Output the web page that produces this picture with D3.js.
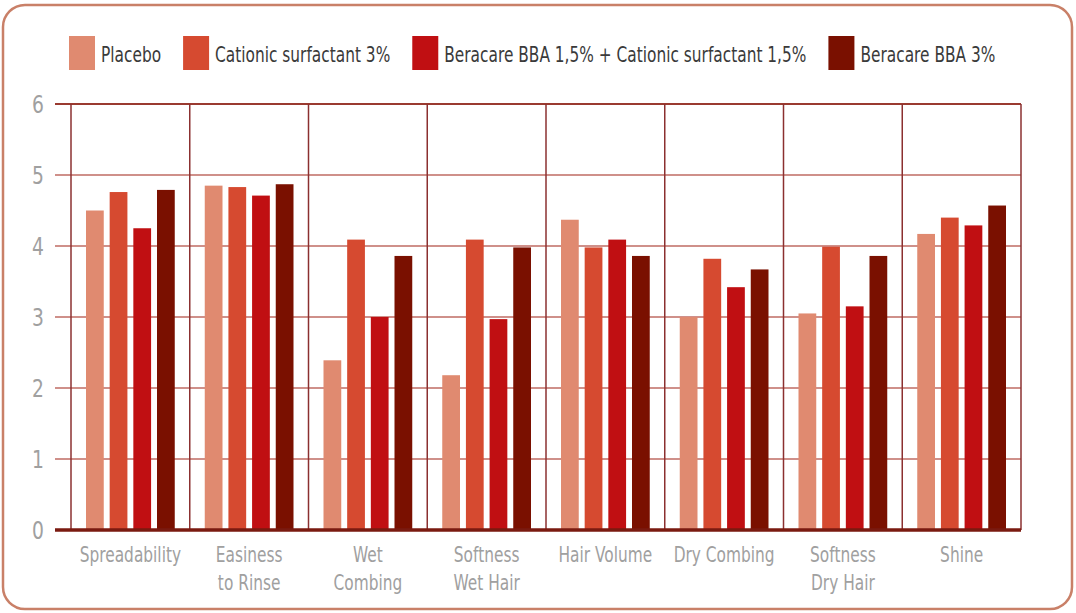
<!DOCTYPE html>
<html>
<head>
<meta charset="utf-8">
<script src="https://cdn.jsdelivr.net/npm/d3@7"></script>
<style>
  html, body { margin: 0; padding: 0; background: #fff; }
  svg text { font-family: "DejaVu Sans", sans-serif; }
</style>
</head>
<body>
<svg id="chart"></svg>
<script>
// chart data
const categories = ['Spreadability', 'Easiness\nto Rinse', 'Wet\nCombing', 'Softness\nWet Hair',
  'Hair Volume', 'Dry Combing', 'Softness\nDry Hair', 'Shine'];
const seriesNames = ['Placebo', 'Cationic surfactant 3%',
  'Beracare BBA 1,5% + Cationic surfactant 1,5%', 'Beracare BBA 3%'];
const placebo = [4.5, 4.85, 2.39, 2.18, 4.37, 3.0, 3.05, 4.17];
const cationic = [4.76, 4.83, 4.09, 4.09, 3.98, 3.82, 3.99, 4.4];
const blend = [4.25, 4.71, 3.0, 2.97, 4.09, 3.42, 3.15, 4.29];
const bba = [4.79, 4.87, 3.86, 3.98, 3.86, 3.67, 3.86, 4.57];
const yTicks = [0, 1, 2, 3, 4, 5, 6];

const colors = ['#e08a70', '#d64a30', '#c00f12', '#7a1000'];
const seriesValues = [placebo, cationic, blend, bba];

const W = 1076, H = 613;
const svg = d3.select('#chart').attr('width', W).attr('height', H);

// the original uses a condensed face, so text gets squeezed horizontally
const squeeze = 0.7;

// rounded frame
svg.append('rect')
  .attr('x', 3).attr('y', 5).attr('width', W - 7).attr('height', H - 9)
  .attr('rx', 22).attr('ry', 22)
  .attr('fill', '#fff').attr('stroke', '#c98068').attr('stroke-width', 2.5);

const gridLeft = 55, plotLeft = 71, plotRight = 1021;
const plotTop = 104, plotBottom = 530;

const x = d3.scaleBand()
  .domain(categories)
  .range([plotLeft, plotRight]);

const xs = d3.scaleBand()
  .domain(d3.range(seriesNames.length))
  .range([15, x.bandwidth() - 15])
  .paddingInner(0.25);

const y = d3.scaleLinear()
  .domain([0, 6])
  .range([plotBottom, plotTop]);

// horizontal gridlines
svg.append('g')
  .selectAll('line')
  .data(yTicks.filter(d => d > 0))
  .enter().append('line')
  .attr('x1', gridLeft).attr('x2', plotRight)
  .attr('y1', d => y(d)).attr('y2', d => y(d))
  .attr('stroke', d => d === 6 ? '#9a3a30' : '#cf908a')
  .attr('stroke-width', 2);

// vertical dividers
svg.append('g')
  .selectAll('line')
  .data(categories.concat(['end']))
  .enter().append('line')
  .attr('x1', (d, i) => plotLeft + i * x.step())
  .attr('x2', (d, i) => plotLeft + i * x.step())
  .attr('y1', plotTop).attr('y2', plotBottom)
  .attr('stroke', '#8b3030').attr('stroke-width', 1.5);

// bars
const groups = svg.append('g')
  .selectAll('g')
  .data(categories)
  .enter().append('g')
  .attr('transform', d => `translate(${x(d)},0)`);

groups.selectAll('rect')
  .data((d, ci) => seriesValues.map((vals, si) => ({ si, v: vals[ci] })))
  .enter().append('rect')
  .attr('x', d => xs(d.si))
  .attr('width', xs.bandwidth())
  .attr('y', d => y(d.v))
  .attr('height', d => y(0) - y(d.v))
  .attr('fill', d => colors[d.si]);

// baseline
svg.append('line')
  .attr('x1', gridLeft).attr('x2', plotRight)
  .attr('y1', y(0)).attr('y2', y(0))
  .attr('stroke', '#7a1a10').attr('stroke-width', 3.5);

// y axis labels
const yAxis = svg.append('g')
  .attr('transform', `translate(${gridLeft - 11},0)`)
  .call(d3.axisLeft(y).tickValues(yTicks).tickSize(0).tickPadding(0).tickFormat(d3.format('d')));
yAxis.select('.domain').remove();
yAxis.selectAll('text')
  .attr('x', 0)
  .attr('fill', '#a0a0a0')
  .attr('dy', '0.36em')
  .attr('transform', 'scale(0.78,1)')
  .style('font-size', '24px');

// x axis labels, one text per line
const xl = svg.append('g');
categories.forEach(d => {
  d.split('\n').forEach((line, i) => {
    xl.append('g')
      .attr('transform', `translate(${x(d) + x.bandwidth() / 2},${562 + i * 28}) scale(${squeeze},1)`)
      .append('text')
      .attr('text-anchor', 'middle')
      .attr('fill', '#a0a0a0')
      .style('font-size', '22px')
      .text(line);
  });
});

// legend
const legend = svg.append('g');
let lx = 69;
seriesNames.forEach((name, i) => {
  legend.append('rect')
    .attr('x', lx).attr('y', 36).attr('width', 26).attr('height', 34)
    .attr('fill', colors[i]);
  const t = legend.append('g')
    .attr('transform', `translate(${lx + 32},62) scale(${squeeze},1)`)
    .append('text')
    .attr('fill', '#3a3a3a')
    .style('font-size', '22px')
    .text(name);
  lx += 32 + t.node().getComputedTextLength() * squeeze + 22;
});
</script>
</body>
</html>
